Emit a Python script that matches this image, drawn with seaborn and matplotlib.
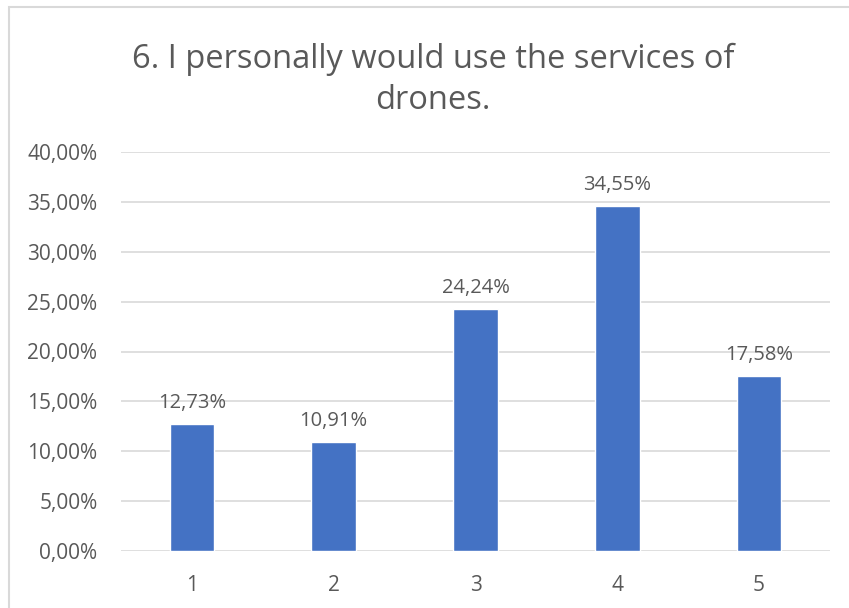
import pandas as pd
import seaborn as sns
import matplotlib.pyplot as plt
from matplotlib.patches import Rectangle
from matplotlib.ticker import FuncFormatter

categories = ['1', '2', '3', '4', '5']
shares = [12.73, 10.91, 24.24, 34.55, 17.58]
yticks = [0, 5, 10, 15, 20, 25, 30, 35, 40]

df = pd.DataFrame({'answer': categories, 'share': shares})

sns.set_theme(style='white')
plt.rcParams['font.family'] = ['Open Sans', 'DejaVu Sans']

text_col = '#595959'
fig = plt.figure(figsize=(8.49, 6.08), dpi=100)
fig.patches.append(Rectangle((9 / 849, -0.1), 1.2, 1 - 7 / 608 + 0.1,
                             transform=fig.transFigure, fill=False,
                             edgecolor='#d9d9d9', linewidth=1.5))
ax = fig.add_axes([121 / 849, 1 - 551 / 608, (830 - 121) / 849, (551 - 152) / 608])

sns.barplot(data=df, x='answer', y='share', color='#4472C4', width=0.315,
            saturation=1, ax=ax, zorder=3)

ax.set_ylim(0, 40)
ax.set_yticks(yticks)
ax.yaxis.set_major_formatter(FuncFormatter(lambda v, p: f'{v:.2f}%'.replace('.', ',')))
ax.grid(axis='y', color='#d9d9d9', linewidth=1.2, zorder=0)
sns.despine(ax=ax, left=True, bottom=True, top=True, right=True)
ax.tick_params(axis='both', length=0, labelsize=15, colors=text_col)
ax.tick_params(axis='y', pad=17)
ax.tick_params(axis='x', pad=17)
ax.set_xlabel('')
ax.set_ylabel('')

ax.bar_label(ax.containers[0], labels=[f'{v:.2f}%'.replace('.', ',') for v in shares],
             padding=8, fontsize=14.5, color=text_col)

fig.text(0.51, 1 - 80 / 608, 'I personally would use the services of'.join(['6. ', '\ndrones.']),
         ha='center', va='center', fontsize=23.5, color=text_col, linespacing=1.3)

plt.savefig('out.png', dpi=100, facecolor='w')
